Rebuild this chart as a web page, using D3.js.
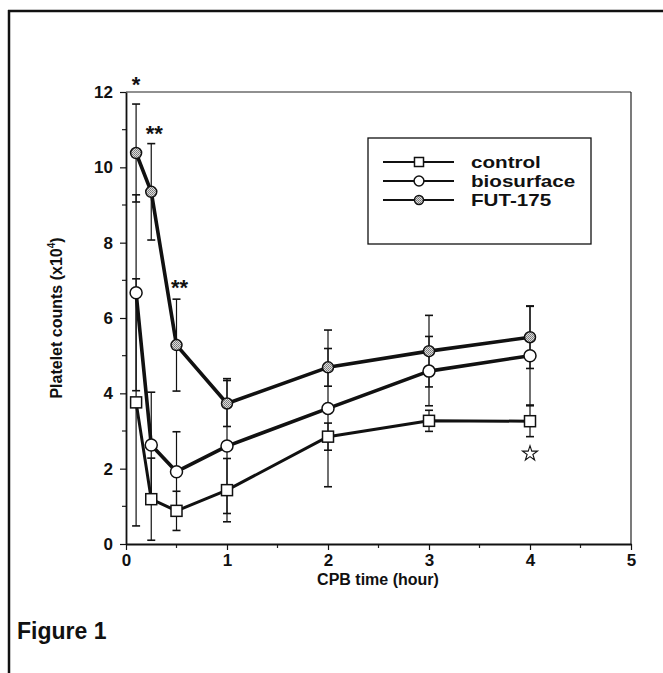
<!DOCTYPE html>
<html>
<head>
<meta charset="utf-8">
<script src="https://cdn.jsdelivr.net/npm/d3@7"></script>
<style>
  html, body { margin: 0; padding: 0; background: #fff; }
  svg { display: block; }
  text { font-family: "Liberation Sans", Arial, Helvetica, sans-serif; fill: #111; }
</style>
</head>
<body>
<svg id="chart" width="663" height="673"></svg>
<script>
// CPB sampling times (hours)
const times = [0.1, 0.25, 0.5, 1, 2, 3, 4];

// Platelet counts (x10^4), mean and SD per group
const controlMean    = [3.76, 1.19, 0.88, 1.43, 2.85, 3.27, 3.26];
const controlSD      = [3.28, 1.09, 0.52, 0.84, 0.36, 0.28, 0.41];
const biosurfaceMean = [6.67, 2.63, 1.92, 2.60, 3.60, 4.59, 5.00];
const biosurfaceSD   = [2.60, 1.40, 1.06, 1.79, 2.08, 0.92, 1.31];
const futMean        = [10.38, 9.35, 5.28, 3.73, 4.69, 5.12, 5.49];
const futSD          = [1.30, 1.28, 1.22, 0.61, 0.50, 0.95, 0.83];

const seriesNames = ["control", "biosurface", "FUT-175"];
const xTicks = [0, 1, 2, 3, 4, 5];
const yTicks = [0, 2, 4, 6, 8, 10, 12];

// significance marks: [time, value, label]
const sigMarks = [
  [0.1, 12.35, "*"],
  [0.25, 11.05, "**"],
  [0.5, 6.95, "**"]
];
const starMark = [4, 2.4];

const svg = d3.select("#chart");

// figure frame
svg.append("line").attr("x1", 8).attr("x2", 663).attr("y1", 11).attr("y2", 11)
  .attr("stroke", "#111").attr("stroke-width", 2.5);
svg.append("line").attr("x1", 9).attr("x2", 9).attr("y1", 10).attr("y2", 673)
  .attr("stroke", "#111").attr("stroke-width", 2.5);

const x = d3.scaleLinear().domain([0, 5]).range([126, 631]);
const y = d3.scaleLinear().domain([0, 12]).range([544, 92]);

// plot box (top/right)
svg.append("line").attr("x1", x(0)).attr("x2", x(5)).attr("y1", y(12)).attr("y2", y(12))
  .attr("stroke", "#222").attr("stroke-width", 1.2);
svg.append("line").attr("x1", x(5)).attr("x2", x(5)).attr("y1", y(12)).attr("y2", y(0))
  .attr("stroke", "#222").attr("stroke-width", 1.2);

// minor ticks
const gMinor = svg.append("g").attr("stroke", "#222").attr("stroke-width", 1.2);
d3.range(1, 12, 2).forEach(v => {
  gMinor.append("line").attr("x1", x(0) - 4).attr("x2", x(0)).attr("y1", y(v)).attr("y2", y(v));
});
d3.range(0.5, 5, 1).forEach(v => {
  gMinor.append("line").attr("x1", x(v)).attr("x2", x(v)).attr("y1", y(0)).attr("y2", y(0) + 4);
});

// axes
const xAxis = svg.append("g").attr("transform", `translate(0,${y(0)})`)
  .call(d3.axisBottom(x).tickValues(xTicks).tickFormat(d3.format("d")).tickSize(6).tickSizeOuter(0).tickPadding(4));
const yAxis = svg.append("g").attr("transform", `translate(${x(0)},0)`)
  .call(d3.axisLeft(y).tickValues(yTicks).tickFormat(d3.format("d")).tickSize(6).tickSizeOuter(0).tickPadding(7));
[xAxis, yAxis].forEach(g => {
  g.select(".domain").attr("stroke", "#111").attr("stroke-width", 1.8);
  g.selectAll(".tick line").attr("stroke", "#111").attr("stroke-width", 1.2);
  g.selectAll(".tick text").attr("font-size", 17).attr("font-weight", "bold")
    .attr("font-family", "Liberation Sans, Arial, sans-serif").attr("fill", "#111");
});

// axis titles
svg.append("text").attr("x", 378).attr("y", 585).attr("text-anchor", "middle")
  .attr("font-size", 16).attr("font-weight", "bold").text("CPB time (hour)");
const yl = svg.append("text").attr("transform", "translate(62,318) rotate(-90)")
  .attr("text-anchor", "middle").attr("font-size", 16).attr("font-weight", "bold");
yl.append("tspan").text("Platelet counts (x10");
yl.append("tspan").attr("dy", -7).attr("font-size", 10).text("4");
yl.append("tspan").attr("dy", 7).text(")");

// hatched fill for FUT-175 markers
const defs = svg.append("defs");
const pat = defs.append("pattern").attr("id", "dots").attr("patternUnits", "userSpaceOnUse")
  .attr("width", 2).attr("height", 2);
pat.append("rect").attr("width", 2).attr("height", 2).attr("fill", "#ddd");
pat.append("rect").attr("width", 1).attr("height", 1).attr("fill", "#777");
pat.append("rect").attr("x", 1).attr("y", 1).attr("width", 1).attr("height", 1).attr("fill", "#888");

const groups = [
  { name: seriesNames[0], mean: controlMean, sd: controlSD, marker: "square", lw: 3 },
  { name: seriesNames[1], mean: biosurfaceMean, sd: biosurfaceSD, marker: "circle", lw: 3.6 },
  { name: seriesNames[2], mean: futMean, sd: futSD, marker: "fut", lw: 3.6 }
];

function drawMarker(g, cx, cy, kind, sc = 1) {
  if (kind === "square") {
    g.append("rect").attr("x", cx - 5.5 * sc).attr("y", cy - 5.5 * sc)
      .attr("width", 11 * sc).attr("height", 11 * sc)
      .attr("fill", "#fff").attr("stroke", "#111").attr("stroke-width", 1.5);
  } else if (kind === "circle") {
    g.append("circle").attr("cx", cx).attr("cy", cy).attr("r", 6 * sc)
      .attr("fill", "#fff").attr("stroke", "#111").attr("stroke-width", 1.5);
  } else {
    g.append("circle").attr("cx", cx).attr("cy", cy).attr("r", 5.5 * sc)
      .attr("fill", "url(#dots)").attr("stroke", "#111").attr("stroke-width", 1.5);
  }
}

// error bars
const gErr = svg.append("g").attr("stroke", "#111").attr("stroke-width", 1.2);
groups.forEach(s => {
  times.forEach((t, i) => {
    const hi = s.mean[i] + s.sd[i], lo = Math.max(0, s.mean[i] - s.sd[i]);
    gErr.append("line").attr("x1", x(t)).attr("x2", x(t)).attr("y1", y(hi)).attr("y2", y(lo));
    [hi, lo].forEach(v => {
      gErr.append("line").attr("x1", x(t) - 4).attr("x2", x(t) + 4).attr("y1", y(v)).attr("y2", y(v))
        .attr("stroke-width", 1.6);
    });
  });
});

// lines and markers
const line = d3.line().x((d, i) => x(times[i])).y(d => y(d));
groups.forEach(s => {
  svg.append("path").datum(s.mean).attr("d", line).attr("fill", "none")
    .attr("stroke", "#111").attr("stroke-width", s.lw).attr("stroke-linejoin", "round");
});
groups.forEach(s => {
  const g = svg.append("g");
  times.forEach((t, i) => drawMarker(g, x(t), y(s.mean[i]), s.marker));
});

// significance marks
sigMarks.forEach(([t, v, lab]) => {
  svg.append("text").attr("x", x(t) + (lab.length > 1 ? 3 : 0)).attr("y", y(v) + 13)
    .attr("text-anchor", "middle").attr("font-size", 22).attr("font-weight", "bold").text(lab);
});
svg.append("path")
  .attr("transform", `translate(${x(starMark[0])},${y(starMark[1])})`)
  .attr("d", d3.symbol(d3.symbolStar, 70)())
  .attr("fill", "#fff").attr("stroke", "#111").attr("stroke-width", 1.1);

// legend
const lg = svg.append("g");
lg.append("rect").attr("x", 368).attr("y", 138).attr("width", 223).attr("height", 106)
  .attr("fill", "#fff").attr("stroke", "#111").attr("stroke-width", 1.3);
groups.forEach((s, i) => {
  const cy = 162 + i * 19;
  lg.append("line").attr("x1", 383).attr("x2", 454).attr("y1", cy).attr("y2", cy)
    .attr("stroke", "#111").attr("stroke-width", 2.2);
  drawMarker(lg, 419, cy, s.marker, 0.82);
  // slightly widened label glyphs
  lg.append("text").attr("transform", `translate(471,${cy + 6}) scale(1.25,1)`)
    .attr("font-size", 16.5).attr("font-weight", "bold").text(s.name);
});

// caption
svg.append("text").attr("x", 17).attr("y", 639).attr("font-size", 23).attr("font-weight", "600")
  .attr("font-family", "Lato, 'Open Sans', sans-serif").attr("fill", "#222").text("Figure 1");
</script>
</body>
</html>
